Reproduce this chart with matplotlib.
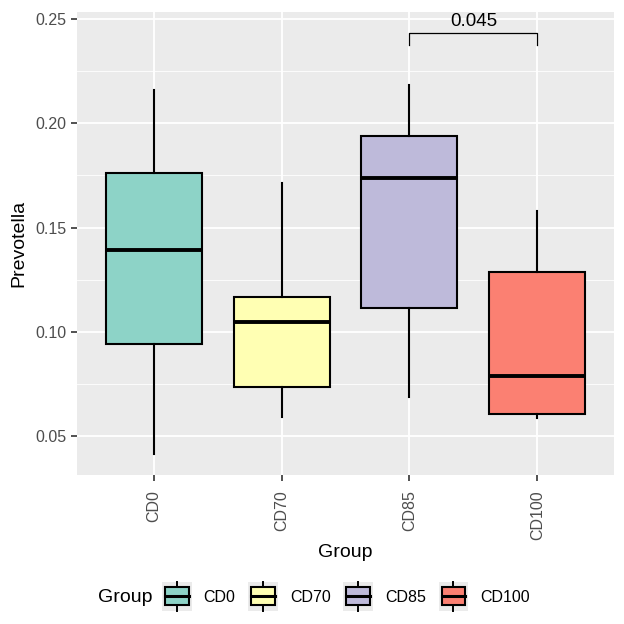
import matplotlib
matplotlib.use("Agg")
import matplotlib.pyplot as plt
from matplotlib.legend_handler import HandlerBase
from matplotlib.patches import Rectangle, Patch
from matplotlib.lines import Line2D

plt.rcParams['font.family'] = ['Liberation Sans', 'DejaVu Sans']

groups = ["CD0", "CD70", "CD85", "CD100"]
whislo = [0.0414, 0.0593, 0.0686, 0.0585]
q1 = [0.0942, 0.0733, 0.1112, 0.0604]
med = [0.1393, 0.1045, 0.1736, 0.0788]
q3 = [0.1762, 0.1166, 0.1938, 0.1286]
whishi = [0.2160, 0.1714, 0.2184, 0.1581]
colors = ["#8DD3C7", "#FFFFB3", "#BEBADA", "#FB8072"]
pval_label = "0.045"
pval_pair = ("CD85", "CD100")
pval_y = 0.2434
pval_tip = 0.2375

fig = plt.figure(figsize=(6.24, 6.24), dpi=100)
ax = fig.add_axes([77/624, 1-475/624, (614-77)/624, (475-12)/624])
ax.set_facecolor("#EBEBEB")
for s in ax.spines.values():
    s.set_visible(False)

stats = []
for i, g in enumerate(groups):
    stats.append(dict(label=g, whislo=whislo[i], q1=q1[i], med=med[i], q3=q3[i], whishi=whishi[i], fliers=[]))

positions = list(range(1, len(groups)+1))
bp = ax.bxp(stats, positions=positions, widths=0.75, patch_artist=True, showcaps=False,
            boxprops=dict(edgecolor="black", linewidth=1.5),
            medianprops=dict(color="black", linewidth=2.8),
            whiskerprops=dict(color="black", linewidth=1.5), zorder=3)
for patch, c in zip(bp['boxes'], colors):
    patch.set_facecolor(c)

ax.set_xlim(0.4, 4.6)
ax.set_ylim(0.0313, 0.2534)
ax.set_yticks([0.05, 0.10, 0.15, 0.20, 0.25])
ax.set_yticklabels(["0.05", "0.10", "0.15", "0.20", "0.25"])
ax.set_yticks([0.075, 0.125, 0.175, 0.225], minor=True)
ax.set_xticks(positions)
ax.set_xticklabels(groups, rotation=90)
ax.grid(True, which="major", color="white", linewidth=1.3, zorder=0)
ax.grid(True, which="minor", axis="y", color="white", linewidth=0.6, zorder=0)
ax.set_axisbelow(True)
ax.tick_params(axis="both", which="major", color="#333333", length=4, width=1.2,
               labelcolor="#4D4D4D", labelsize=11.5)
ax.tick_params(axis="x", which="major", pad=7)
ax.tick_params(axis="y", which="minor", length=0)
ax.set_ylabel("Prevotella", fontsize=14, labelpad=6)
ax.set_xlabel("Group", fontsize=14, labelpad=3)

# significance bracket
xa = positions[groups.index(pval_pair[0])]
xb = positions[groups.index(pval_pair[1])]
ax.plot([xa, xa, xb, xb], [pval_tip, pval_y, pval_y, pval_tip], color="black", linewidth=0.9, zorder=4)
ax.text((xa+xb)/2, pval_y + 0.0015, pval_label, ha="center", va="bottom", fontsize=13.5, color="black")

class BoxHandler(HandlerBase):
    def create_artists(self, legend, orig_handle, xdescent, ydescent, width, height, fontsize, trans):
        fc = orig_handle.get_facecolor()
        x0 = -xdescent
        cy = -ydescent + height/2
        side = width
        y0 = cy - side/2
        arts = [Rectangle((x0, y0), side, side, facecolor="#EBEBEB", edgecolor="none", transform=trans)]
        bx0, bx1 = x0 + side*0.1, x0 + side*0.9
        by0, by1 = y0 + side*0.2, y0 + side*0.8
        arts.append(Line2D([x0+side/2]*2, [y0+side*0.02, by0], color="black", lw=1.4, transform=trans))
        arts.append(Line2D([x0+side/2]*2, [by1, y0+side*0.98], color="black", lw=1.4, transform=trans))
        arts.append(Rectangle((bx0, by0), bx1-bx0, by1-by0, facecolor=fc, edgecolor="black", lw=1.5, transform=trans))
        arts.append(Line2D([bx0, bx1], [cy, cy], color="black", lw=2.2, transform=trans))
        return arts

handles = [Patch(facecolor=c) for c in colors]
leg = fig.legend(handles, groups, handler_map={Patch: BoxHandler()}, loc="center",
                 bbox_to_anchor=(346/624, 1-597/624), ncol=4, frameon=False,
                 fontsize=11.5, handlelength=1.85, handleheight=1.0, handletextpad=0.75,
                 columnspacing=0.8)
fig.text(125/624, 1-597/624, "Group", ha="center", va="center", fontsize=14)

fig.savefig("out.png", dpi=100, facecolor="white")
